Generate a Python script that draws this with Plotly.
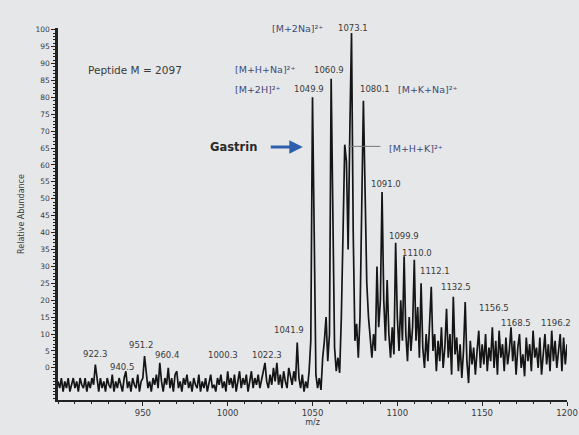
import plotly.graph_objects as go

# Relative abundance, one value per m/z unit from 900 to 1200
intensity = [
    -4, -6, -3, -7, -4, -6, -3, -7, -5, -3,        # 900-909
    -6, -4, -7, -3, -5, -6, -3, -7, -4, -6,        # 910-919
    -3, -5, 1, -4, -7, -3, -6, -4, -7, -3,         # 920-929
    -5, -6, -2, -7, -4, -6, -3, -5, -7, -3,        # 930-939
    -1, -6, -4, -7, -3, -5, -6, -2, -7, -4,        # 940-949
    -3, 3.5, -2, -6, -4, -7, -3, -5, -2, -6,       # 950-959
    1.5, -4, -7, -3, -5, 0, -6, -3, -7, -2,        # 960-969
    -1, -6, -4, -7, -3, -5, -2, -6, -4, -7,        # 970-979
    -3, -5, -6, -2, -7, -4, -6, -3, -7, -4,        # 980-989
    -2, -6, -5, -7, -3, -5, -2, -6, -4, -7,        # 990-999
    -1, -5, -3, -6, -2, -7, -4, -1, -6, -3,        # 1000-1009
    -5, -2, -7, -4, -1, -6, -3, -5, -2, -6,        # 1010-1019
    -3, -1, 1.5, -4, -6, -2, -5, 0, -4, 1.5,       # 1020-1029
    -5, -2, -6, -1, -4, -6, 0, -3, -5, -1,         # 1030-1039
    -4, 7.5, -3, -6, -2, -7, -4, -6, -1, 8,        # 1040-1049
    80, 40, -2, -6, -3, -6.5, 3, 8, 15, 2,         # 1050-1059
    10, 85.5, 50, 6, -1, 3, -1.5, 15, 40, 66,      # 1060-1069
    61, 35, 70, 99, 40, 8, 13, 3, 15, 50,          # 1070-1079
    79, 52, 25, 15, 8, 3, 10, 5, 30, 12,           # 1080-1089
    20, 52, 20, 8, 26, 10, 3, 12, 4, 37,           # 1090-1099
    15, 5, 20, 8, 33, 10, 2, 15, 5, 12,            # 1100-1109
    32, 8, 18, 3, 25, 6, 0, 10, 2, 14,             # 1110-1119
    24, 5, 10, -1, 8, 2, 12, 0, 6, 17.5,           # 1120-1129
    3, 10, -2, 21, 4, 9, -1, 7, -3, 5,             # 1130-1139
    19.5, 2, -4.5, 8, 1, 6, -2, 5, 11, 0,          # 1140-1149
    7, 1, 10, -1, 6, 2, 12, 0, 8, -2,              # 1150-1159
    11, 3, 7, -1, 9, 1, 5, 12, 2, 8,               # 1160-1169
    -2, 6, 10, 0, 4, -2.5, 9, 2, 7, -1,            # 1170-1179
    11, 3, 6, 0, 9, -2, 5, 10, 1, 7,               # 1180-1189
    -1, 11, 2, 8, 0, 6, 10, -1, 9, 1,              # 1190-1199
    7,                                             # 1200
]
mz_start = 900
mz = [mz_start + i for i in range(len(intensity))]

# Peak value labels: text, m/z position, abundance position
peak_labels = ["1060.9", "1049.9", "1080.1", "1091.0", "1099.9",
               "1110.0", "1112.1", "1132.5", "1156.5", "1168.5", "1196.2",
               "1041.9", "922.3", "940.5", "951.2", "960.4", "1000.3", "1022.3"]
peak_label_x = [1059.5, 1047.8, 1087.0, 1093.4, 1103.9,
                1111.5, 1122.0, 1134.8, 1157.0, 1170.0, 1193.5,
                1036.2, 921.6, 938.0, 949.0, 964.3, 997.5, 1023.2]
peak_label_y = [88.2, 82.4, 82.4, 54.4, 39.1,
                34.1, 28.5, 23.8, 17.6, 13.2, 13.2,
                11.2, 4.1, 0.3, 6.8, 3.8, 3.8, 3.8]

# Ion assignment labels
ion_labels = ["[M+H+Na]²⁺", "[M+2H]²⁺", "[M+K+Na]²⁺", "[M+H+K]²⁺"]
ion_label_x = [1022.1, 1018.0, 1118.0, 1111.0]
ion_label_y = [88.2, 82.4, 82.4, 65.0]

# Labels above the top of the axis (base peak)
top_labels = ["[M+2Na]²⁺", "1073.1"]
top_label_x = [1041.4, 1074.1]

y_ticks = list(range(0, 101, 5))
x_ticks = [950, 1000, 1050, 1100, 1150, 1200]

BG = "#e6e7e9"
TXT = "#3a3a3a"
ION = "#3e4a78"
FONT = "DejaVu Sans"

fig = go.Figure()
fig.add_trace(go.Scatter(
    x=mz, y=intensity, mode="lines",
    line=dict(color="#151515", width=1.7),
    hoverinfo="skip", showlegend=False,
))

ann = []
for t, x, y in zip(peak_labels, peak_label_x, peak_label_y):
    ann.append(dict(x=x, y=y, xref="x", yref="y", text=t, showarrow=False,
                    font=dict(family=FONT, size=8.5, color=TXT)))
for t, x, y in zip(ion_labels, ion_label_x, ion_label_y):
    ann.append(dict(x=x, y=y, xref="x", yref="y", text=t, showarrow=False,
                    font=dict(family=FONT, size=9.5, color=ION)))
for i, (t, x) in enumerate(zip(top_labels, top_label_x)):
    ann.append(dict(x=x, y=1.018, xref="x", yref="paper", text=t, showarrow=False,
                    font=dict(family=FONT, size=9.5 if i == 0 else 8.5,
                              color=ION if i == 0 else TXT)))

ann.append(dict(x=945.5, y=88.2, xref="x", yref="y", text="Peptide M = 2097",
                showarrow=False, font=dict(family=FONT, size=10.5, color=TXT)))
ann.append(dict(x=1003.5, y=65.3, xref="x", yref="y", text="<b>Gastrin</b>",
                showarrow=False, font=dict(family=FONT, size=11.5, color="#2a2a2a")))
ann.append(dict(x=1044.3, y=65.3, ax=1024.5, ay=65.3, xref="x", yref="y",
                axref="x", ayref="y", text="", showarrow=True,
                arrowhead=2, arrowsize=0.9, arrowwidth=3, arrowcolor="#2d5fae"))

fig.update_layout(
    width=579, height=435,
    margin=dict(l=58, r=12, t=28, b=35, autoexpand=False),
    paper_bgcolor=BG, plot_bgcolor=BG,
    annotations=ann,
    shapes=[dict(type="line", xref="x", yref="y", x0=1071, x1=1090, y0=65.5, y1=65.5,
                 line=dict(color="#777777", width=1))],
    font=dict(family=FONT, color=TXT),
)
fig.update_xaxes(
    range=[900, 1200], tickvals=x_ticks, ticktext=[str(v) for v in x_ticks],
    automargin=False,
    showgrid=False, zeroline=False, showline=True, linecolor="#222222", linewidth=2,
    ticks="outside", ticklen=4, tickwidth=1, tickcolor="#222222",
    minor=dict(ticks="outside", dtick=10, tick0=900, ticklen=2, tickcolor="#222222"),
    tickfont=dict(family=FONT, size=8.5, color=TXT),
    title=dict(text="m/z", font=dict(family=FONT, size=8, color=TXT), standoff=2),
)
fig.update_yaxes(
    range=[-9.5, 100.5], tickvals=y_ticks, ticktext=[str(v) for v in y_ticks],
    automargin=False,
    showgrid=False, zeroline=False, showline=True, linecolor="#222222", linewidth=2.5,
    ticks="outside", ticklen=4, tickwidth=1, tickcolor="#222222",
    minor=dict(ticks="outside", dtick=1, tick0=0, ticklen=2, tickcolor="#222222"),
    tickfont=dict(family=FONT, size=7.5, color=TXT),
    title=dict(text="Relative Abundance", font=dict(family=FONT, size=8, color=TXT), standoff=10),
)

fig.write_html(
    "out.html",
    config={"displayModeBar": False},
    post_script=("document.documentElement.style.overflow='hidden';"
                 "document.body.style.overflow='hidden';"
                 "document.body.style.margin='0';"
                 "document.body.style.background='" + BG + "';"),
)
